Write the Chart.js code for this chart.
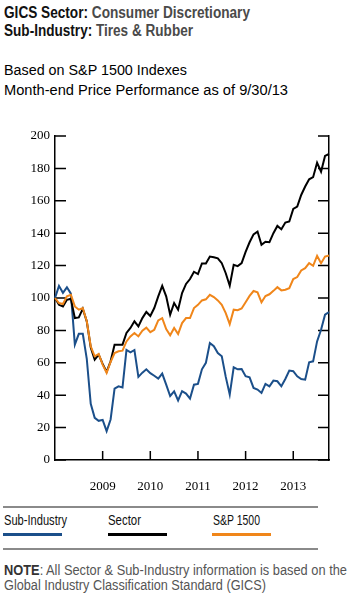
<!DOCTYPE html>
<html>
<head>
<meta charset="utf-8">
<script src="https://cdn.jsdelivr.net/npm/chart.js@4"></script>
<style>
  html, body { margin:0; padding:0; background:#fff; }
  body { width:356px; height:601px; position:relative; overflow:hidden; font-family:'Liberation Sans',Arial,sans-serif; }
  .t { position:absolute; left:4px; white-space:nowrap; transform-origin:0 0; }
  .hdr { font-weight:bold; font-size:16px; line-height:18px; color:#111; }
  .hdr .v { color:#4a4a4a; }
  .sub { font-size:15.5px; line-height:20px; color:#000; }
  .rule { position:absolute; left:3px; width:315px; height:2px; background:#8a8a8a; }
  .lg { position:absolute; top:512px; font-size:14px; line-height:16px; color:#111; white-space:nowrap; transform-origin:0 0; }
  .lgl { position:absolute; top:533px; width:59px; height:3px; }
  .note { font-size:14px; line-height:15px; color:#555; }
  .note b { color:#333; }
  #c { position:absolute; left:0; top:120px; }
</style>
</head>
<body>
<div class="t hdr fit" data-w="246" style="top:4px"><span>GICS Sector:</span> <span class="v">Consumer Discretionary</span></div>
<div class="t hdr fit" data-w="189" style="top:22px"><span>Sub-Industry:</span> <span class="v">Tires &amp; Rubber</span></div>
<div class="t sub fit" data-w="183" style="top:60px">Based on S&amp;P 1500 Indexes</div>
<div class="t sub fit" data-w="284" style="top:80px">Month-end Price Performance as of 9/30/13</div>
<canvas id="c" width="356" height="380"></canvas>
<div class="rule" style="top:506px"></div>
<div class="lg fit" data-w="63" style="left:4px">Sub-Industry</div>
<div class="lg fit" data-w="33" style="left:108px">Sector</div>
<div class="lg fit" data-w="47" style="left:213px">S&amp;P 1500</div>
<div class="lgl" style="left:3px;background:#1b4f8a"></div>
<div class="lgl" style="left:108px;background:#000"></div>
<div class="lgl" style="left:212px;background:#f0861a"></div>
<div class="rule" style="top:548px"></div>
<div class="t note fit" data-w="343" style="top:563px"><b>NOTE</b>: All Sector &amp; Sub-Industry information is based on the</div>
<div class="t note fit" data-w="262" style="top:578px">Global Industry Classification Standard (GICS)</div>
<script>
// fit condensed-looking text
document.querySelectorAll('.fit').forEach(el => {
  const w = el.getBoundingClientRect().width;
  const target = parseFloat(el.dataset.w);
  if (w > 0) el.style.transform = 'scaleX(' + (target / w) + ')';
});

// Month-end categories, Dec 2007 .. Sep 2013
const months = [
  '12/07',
  '1/08','2/08','3/08','4/08','5/08','6/08','7/08','8/08','9/08','10/08','11/08','12/08',
  '1/09','2/09','3/09','4/09','5/09','6/09','7/09','8/09','9/09','10/09','11/09','12/09',
  '1/10','2/10','3/10','4/10','5/10','6/10','7/10','8/10','9/10','10/10','11/10','12/10',
  '1/11','2/11','3/11','4/11','5/11','6/11','7/11','8/11','9/11','10/11','11/11','12/11',
  '1/12','2/12','3/12','4/12','5/12','6/12','7/12','8/12','9/12','10/12','11/12','12/12',
  '1/13','2/13','3/13','4/13','5/13','6/13','7/13','8/13','9/13'
];

const subIndustry = [
  100, 107.5, 103.2, 106.6, 102.7, 71.2, 77.9, 77.9, 62.5, 34.7,
  26, 24.2, 24.8, 17.8, 25, 44, 45.5, 44.8, 67.9, 66.5,
  67.9, 51.3, 53.9, 56, 53.6, 52, 50.2, 53.3, 46.5, 39.5,
  42.4, 36.8, 42.5, 41, 37.9, 46.5, 47, 56, 60, 72.2,
  70.2, 66, 64, 51.3, 40.4, 57.2, 56, 56.2, 51.7, 51,
  44.5, 43.5, 41.4, 47, 45.5, 49, 48.6, 45.5, 50, 55.2,
  54.8, 51.7, 50, 49.6, 60.3, 60.9, 73.2, 80.4, 89.7, 91.3
];

const sector = [
  100, 95.8, 94.8, 98.9, 99.5, 87.6, 88, 93.4, 85.6, 69.5,
  61.9, 65, 59.3, 54.4, 60.9, 71.2, 71.2, 71.2, 78.4, 81.5,
  85.6, 82.5, 87.6, 91.4, 88.9, 93.8, 101, 107.5, 101, 89.7,
  96.9, 92.8, 103, 108.7, 111.7, 116.2, 114.8, 121.3, 121.3, 125.6,
  125.2, 124.5, 121.5, 115.3, 107.6, 120.5, 119.7, 121.5, 128.5, 134.4,
  139.3, 141, 132.8, 134.7, 134.4, 140, 144.5, 142.5, 146.6, 147.2,
  155, 156.4, 163.6, 168.8, 173.3, 174.6, 183.5, 178, 187.7, 188.9
];

const sp1500 = [
  100, 96.9, 96.3, 101, 102, 94.8, 92.8, 93.8, 85.6, 70.2,
  64, 65.5, 58.9, 53.7, 60.5, 66, 67.1, 67.5, 73.2, 76.3,
  78.4, 76.3, 79.8, 81.7, 78.9, 80.4, 86.2, 87.6, 80.8, 77,
  81.5, 77.7, 84.5, 87.6, 87.6, 93.8, 95.8, 98.5, 99.2, 102,
  100.6, 98.5, 95.8, 90.7, 83.9, 92.8, 92.5, 93.5, 97.4, 101.3,
  104.3, 103.5, 97.3, 101.2, 102.3, 104.4, 106.7, 104.7, 105.1, 106.1,
  111.7, 112.9, 117, 118.4, 121.5, 119.9, 126, 121.5, 125.6, 126.2
];

const yearTickCats = ['12/08','12/09','12/10','12/11','12/12'];
const yearTickLabels = ['2009','2010','2011','2012','2013'];
const yTicks = [0, 20, 40, 60, 80, 100, 120, 140, 160, 180, 200];

const innerTicks = {
  id: 'innerTicks',
  beforeDatasetsDraw(chart) {
    const { ctx, chartArea: a, scales } = chart;
    const x = scales.x, y = scales.y;
    ctx.save();
    ctx.strokeStyle = '#000';
    ctx.lineWidth = 1.5;
    ctx.beginPath();
    y.ticks.forEach((t, i) => {
      const p = y.getPixelForTick(i);
      ctx.moveTo(a.left, p); ctx.lineTo(a.left + 11, p);
      ctx.moveTo(a.right, p); ctx.lineTo(a.right - 11, p);
    });
    x.ticks.forEach((t, i) => {
      const p = x.getPixelForTick(i);
      ctx.moveTo(p, a.bottom); ctx.lineTo(p, a.bottom - 9);
    });
    ctx.stroke();
    ctx.restore();
  }
};

new Chart(document.getElementById('c'), {
  type: 'line',
  data: {
    labels: months,
    datasets: [
      { label: 'S&P 1500', data: sp1500, borderColor: '#f0861a' },
      { label: 'Sector', data: sector, borderColor: '#000000' },
      { label: 'Sub-Industry', data: subIndustry, borderColor: '#1b4f8a' }
    ]
  },
  options: {
    responsive: false,
    animation: false,
    events: [],
    layout: { padding: { top: 16, left: 0, right: 0, bottom: 0 } },
    elements: {
      line: { borderWidth: 2, tension: 0, borderJoinStyle: 'miter' },
      point: { radius: 0 }
    },
    plugins: { legend: { display: false }, tooltip: { enabled: false } },
    scales: {
      x: {
        type: 'category',
        offset: false,
        grid: { display: false, drawTicks: false },
        border: { display: true, color: '#000', width: 1.5 },
        afterBuildTicks(scale) {
          scale.ticks = yearTickCats.map(c => ({ value: months.indexOf(c) }));
        },
        afterFit(scale) { scale.height = 40; },
        ticks: {
          autoSkip: false,
          maxRotation: 0,
          padding: 19,
          color: '#000',
          font: { family: 'Liberation Serif', size: 13 },
          callback(value, index) { return yearTickLabels[index]; }
        }
      },
      y: {
        min: 0, max: 200,
        position: 'left',
        grid: { display: false, drawTicks: false },
        border: { display: true, color: '#000', width: 1.5 },
        afterBuildTicks(scale) { scale.ticks = yTicks.map(v => ({ value: v })); },
        afterFit(scale) { scale.width = 55; },
        ticks: {
          padding: 5,
          color: '#000',
          font: { family: 'Liberation Serif', size: 13 }
        }
      },
      y2: {
        min: 0, max: 200,
        position: 'right',
        grid: { display: false, drawTicks: false },
        border: { display: true, color: '#000', width: 1.5 },
        afterFit(scale) { scale.width = 27; },
        ticks: { display: false }
      }
    }
  },
  plugins: [innerTicks]
});
</script>
</body>
</html>
